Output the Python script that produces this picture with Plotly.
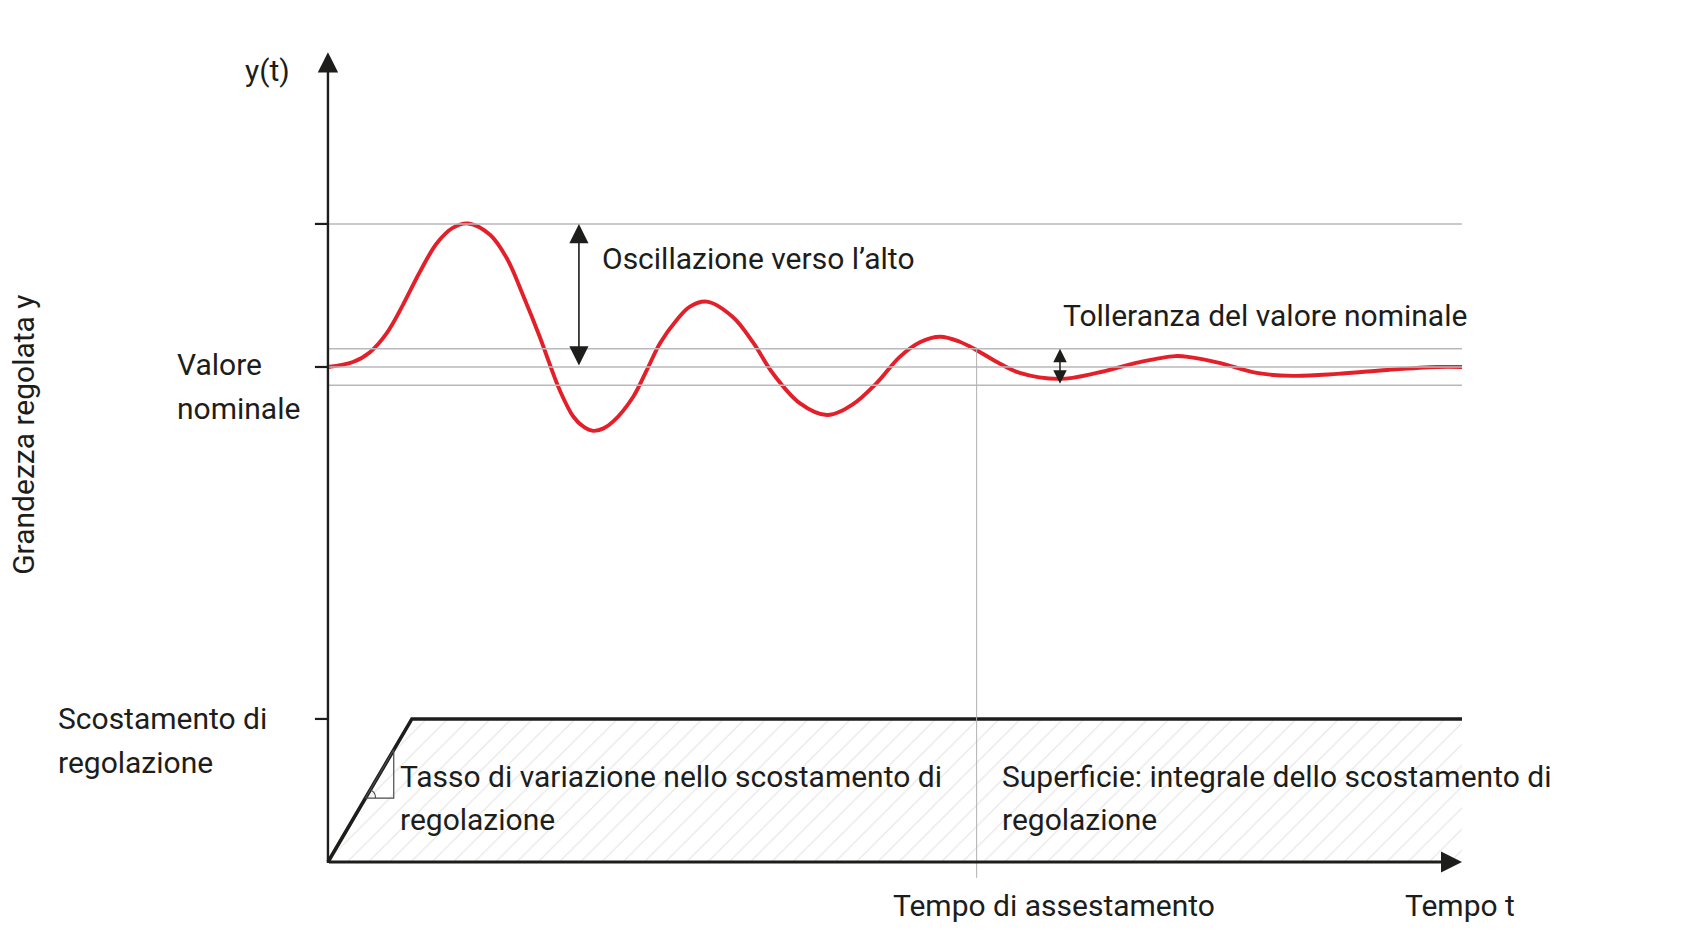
import plotly.graph_objects as go

# controlled variable y(t) (t in arbitrary time units, y relative to setpoint = 1)
t_resp = [0, 0.22, 0.37, 0.52, 0.66, 0.81, 0.96, 1.10, 1.237, 1.429, 1.576, 1.722, 1.869,
          1.958, 2.046, 2.163, 2.25, 2.340, 2.43, 2.516, 2.692, 2.810, 2.928, 3.075, 3.192,
          3.339, 3.57, 3.75, 3.92, 4.16, 4.40, 4.63, 4.84, 5.04, 5.22, 5.40, 5.57, 5.72,
          5.90, 6.10, 6.455, 6.78, 7.16, 7.47, 7.60, 7.87, 8.19, 8.51, 8.90, 9.34, 9.78, 10.0]
y_resp = [1.0, 1.010, 1.030, 1.069, 1.125, 1.192, 1.250, 1.281, 1.290, 1.267, 1.220, 1.144,
          1.060, 1.004, 0.952, 0.900, 0.880, 0.871, 0.876, 0.890, 0.940, 0.993, 1.048, 1.095,
          1.122, 1.132, 1.101, 1.049, 0.988, 0.927, 0.903, 0.925, 0.968, 1.020, 1.050, 1.061,
          1.051, 1.034, 1.010, 0.988, 0.976, 0.988, 1.010, 1.022, 1.020, 1.008, 0.988, 0.982,
          0.986, 0.994, 1.0, 1.0]

setpoint = 1.0
overshoot = 1.289
tolerance = 0.037
t_end = 10.0
t_settle = 5.72

# control deviation (bottom part): ramp then constant level
dev_t = [0, 0.74, t_end]
dev_y = [0, 0.289, 0.289]

# small slope triangle on the ramp, with its angle arc
tri_t = [0.33, 0.58, 0.58]
tri_y = [0.129, 0.129, 0.227]
arc_t = [0.42, 0.41, 0.375]
arc_y = [0.129, 0.139, 0.146]

FONT = "Roboto, 'Liberation Sans', sans-serif"
INK = "#1d1d1b"
GRID = "#b9b9bd"
RED = "#e3202a"

fig = go.Figure()

# hatched area under the control deviation
fig.add_trace(go.Scatter(
    x=dev_t + [t_end, 0], y=dev_y + [0, 0], mode="lines", fill="toself",
    line=dict(width=0), fillcolor="rgba(0,0,0,0)",
    fillpattern=dict(shape="/", fgcolor="#cfcfcf", bgcolor="white", size=15, solidity=0.08),
    hoverinfo="skip",
))

# reference levels: overshoot, tolerance band, setpoint
for lvl in [overshoot, setpoint + tolerance, setpoint, setpoint - tolerance]:
    fig.add_shape(type="line", x0=0, x1=t_end, y0=lvl, y1=lvl,
                  line=dict(color=GRID, width=1.6), layer="above")

# settling time marker
fig.add_shape(type="line", x0=t_settle, x1=t_settle, y0=-0.032, y1=1.04,
              line=dict(color="#b0b0b0", width=1), layer="above")

fig.add_trace(go.Scatter(x=dev_t, y=dev_y, mode="lines",
                         line=dict(color=INK, width=3.6), hoverinfo="skip"))
fig.add_trace(go.Scatter(x=tri_t + [tri_t[0]], y=tri_y + [tri_y[0]], mode="lines",
                         line=dict(color="#4a4a4a", width=1.2), hoverinfo="skip"))
fig.add_trace(go.Scatter(x=arc_t, y=arc_y, mode="lines",
                         line=dict(color="#4a4a4a", width=1.1, shape="spline"), hoverinfo="skip"))

fig.add_trace(go.Scatter(x=t_resp, y=y_resp, mode="lines",
                         line=dict(color=RED, width=3.9, shape="spline", smoothing=1.0),
                         hoverinfo="skip"))

# ticks on the y axis
for lvl in [overshoot, setpoint, dev_y[-1]]:
    fig.add_shape(type="line", x0=-0.115, x1=0, y0=lvl, y1=lvl,
                  line=dict(color=INK, width=2.2))


def arrow(x0, y0, x1, y1, both=False, width=2.4, size=1.0):
    fig.add_annotation(x=x1, y=y1, ax=x0, ay=y0, xref="x", yref="y", axref="x", ayref="y",
                       text="", showarrow=True, arrowhead=2, arrowsize=size,
                       arrowwidth=width, arrowcolor=INK,
                       arrowside="end+start" if both else "end")


# axes
arrow(0, -0.005, 0, 1.636, width=2.4, size=1.7)
arrow(-0.005, 0, t_end, 0, width=3.0, size=1.4)
# overshoot and tolerance arrows
arrow(2.213, setpoint, 2.213, overshoot, both=True, width=1.6, size=2.4)
arrow(6.455, setpoint - tolerance, 6.455, setpoint + tolerance, both=True, width=1.5, size=1.8)


def label(x, y, text, xanchor="left", angle=0):
    fig.add_annotation(x=x, y=y, xref="x", yref="y", text=text, showarrow=False,
                       xanchor=xanchor, yanchor="middle", align="left", textangle=angle,
                       font=dict(family=FONT, size=30, color=INK))


label(-0.53, 1.598, "y(t)", xanchor="center")
label(-1.35, 1.006, "Valore")
label(-1.35, 0.916, "nominale")
label(-2.68, 0.863, "Grandezza regolata y", xanchor="center", angle=-90)
label(2.40, 1.220, "Oscillazione verso l’alto")
label(6.46, 1.104, "Tolleranza del valore nominale")
label(-2.395, 0.290, "Scostamento di")
label(-2.395, 0.202, "regolazione")
label(0.62, 0.172, "Tasso di variazione nello scostamento di")
label(0.62, 0.086, "regolazione")
label(5.93, 0.172, "Superficie: integrale dello scostamento di")
label(5.93, 0.086, "regolazione")
label(6.40, -0.087, "Tempo di assestamento", xanchor="center")
label(9.98, -0.087, "Tempo t", xanchor="center")

fig.update_layout(
    width=1704, height=941,
    margin=dict(l=0, r=0, t=0, b=0),
    paper_bgcolor="white", plot_bgcolor="white",
    showlegend=False,
    xaxis=dict(range=[-2.892, 12.134], visible=False, fixedrange=True),
    yaxis=dict(range=[-0.1596, 1.7414], visible=False, fixedrange=True),
)

fig.write_html("out.html", config={"displayModeBar": False},
               post_script="document.body.style.margin = '0';")
